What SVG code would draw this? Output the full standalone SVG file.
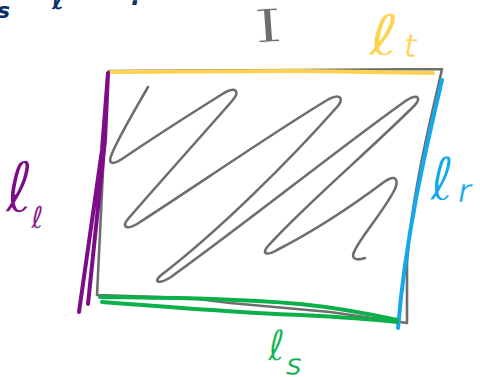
<svg xmlns="http://www.w3.org/2000/svg" width="480" height="377" viewBox="0 0 480 377">
<style>
.g{fill:none;stroke:#6e6e6e;stroke-width:2.6;stroke-linecap:round;stroke-linejoin:round}
.c{fill:none;stroke-width:4;stroke-linecap:round;stroke-linejoin:round}
.lbl{font-family:"DejaVu Sans",sans-serif;font-style:italic;stroke:#ffffff;stroke-linejoin:round}
</style>
<rect width="480" height="377" fill="#ffffff"/>
<g id="header" fill="#0b2b6c" font-family="DejaVu Sans, sans-serif" font-weight="bold" font-style="italic">
<text x="-3" y="18" font-size="22">s</text>
<text x="14" y="-3" font-size="30" font-style="normal">+</text>
<text x="52" y="9" font-size="26">ℓ</text>
<text x="131" y="5" font-size="24">.</text>
</g>
<g id="rectangle">
<path class="g" d="M110,71 L300,70 L442,69 M442,69 C432,115 412,190 407,263 L407,323 M407,323 L330,312 L230,303 L190,298 L97,295 M97,295 L104,150 L107,82 L109,71"/>
</g>
<g id="scribble">
<path class="g" d="M148,87 C135,110 118,138 111,156 C108,164 113,165 122,159 C150,140 200,108 224,93 C237,86 240,92 232,101 C205,132 160,182 128,219 C121,227 127,230 137,224 C190,190 280,128 329,99 C341,93 344,99 337,107 C290,160 220,230 160,276 C153,283 160,284 171,277 C250,220 350,140 407,100 C419,93 421,99 414,106 C370,150 305,205 268,246 C261,254 267,256 277,250 C320,228 360,200 384,182 C397,173 399,181 394,191 C381,215 362,235 355,250 C350,259 356,261 365,258"/>
</g>
<g id="edge-top">
<path class="c" stroke="#ffd250" d="M111,72 L300,71 L433,73"/>
<text class="lbl" x="368" y="55" font-size="56" stroke-width="1" fill="#ffd250" transform="translate(368,55) scale(1.4,1) translate(-368,-55)">ℓ</text>
<text class="lbl" x="404" y="57" font-size="32" stroke-width="0.4" fill="#ffd250">t</text>
</g>
<g id="edge-left">
<path class="c" stroke="#7e0c88" d="M108,73 L102,150 L79,312 M108,74 L105,140 L88,304"/>
<text class="lbl" x="5" y="212" font-size="70" stroke-width="1.4" fill="#7e0c88">ℓ</text>
<text class="lbl" x="31" y="228" font-size="30" stroke-width="0.3" fill="#7e0c88">ℓ</text>
</g>
<g id="edge-right">
<path class="c" stroke="#14a9eb" d="M442,80 C428,140 406,230 398,328"/>
<text class="lbl" x="430" y="200" font-size="60" stroke-width="1.1" fill="#14a9eb">ℓ</text>
<text class="lbl" x="458" y="202" font-size="32" stroke-width="0.4" fill="#14a9eb">r</text>
</g>
<g id="edge-bottom">
<path class="c" stroke="#0bb04b" d="M100,297 C170,298 230,298 300,304 C340,308 370,314 397,320 M102,302 C180,308 260,314 300,315 C340,317 370,319 397,322"/>
<text class="lbl" x="268" y="360" font-size="42" stroke-width="0.6" fill="#0bb04b">ℓ</text>
<text class="lbl" x="286" y="375" font-size="30" stroke-width="0.3" fill="#0bb04b">s</text>
</g>
<g id="title">
<text x="268" y="42" font-size="46" text-anchor="middle" fill="#6e6e6e" stroke="#ffffff" stroke-width="0.8" font-family="DejaVu Serif, serif" transform="translate(268,25) rotate(-4) scale(1.6,1) translate(-268,-25)">I</text>
</g>
</svg>
